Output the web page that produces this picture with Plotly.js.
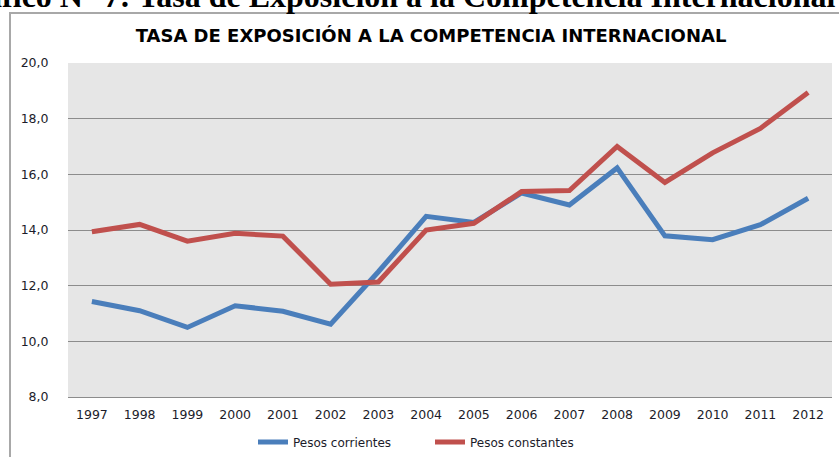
<!DOCTYPE html>
<html>
<head>
<meta charset="utf-8">
<script src="https://cdn.plot.ly/plotly-3.0.1.min.js"></script>
<style>html,body{margin:0;padding:0;background:#fff;}#chart{width:839px;height:457px;}</style>
</head>
<body>
<div id="chart"></div>
<script>
var years = ['1997','1998','1999','2000','2001','2002','2003','2004','2005','2006','2007','2008','2009','2010','2011','2012'];
var pesosCorrientes = [11.43, 11.1, 10.5, 11.28, 11.08, 10.62, 12.5, 14.49, 14.27, 15.33, 14.9, 16.23, 13.79, 13.65, 14.19, 15.14];
var pesosConstantes = [13.94, 14.2, 13.6, 13.88, 13.78, 12.05, 12.13, 14.0, 14.24, 15.38, 15.42, 17.0, 15.71, 16.77, 17.65, 18.94];
var yTicks = [8, 10, 12, 14, 16, 18, 20];
var seriesNames = ['Pesos corrientes', 'Pesos constantes'];
var chartTitle = 'TASA DE EXPOSICIÓN A LA COMPETENCIA INTERNACIONAL';
var headerText = 'Gráfico N° 7: Tasa de Exposición a la Competencia Internacional';

var ML = 68, MR = 7, MT = 63, MB = 60, W = 839, H = 457;
var PW = W - ML - MR, PH = H - MT - MB;
function px(x){ return (x - ML) / PW; }
function py(y){ return (H - MB - y) / PH; }

var traces = [
  {x: years, y: pesosCorrientes, name: seriesNames[0], type: 'scatter', mode: 'lines',
   line: {color: '#4a7ebb', width: 5}},
  {x: years, y: pesosConstantes, name: seriesNames[1], type: 'scatter', mode: 'lines',
   line: {color: '#c0504d', width: 5}}
];

var tickFont = {family: 'DejaVu Sans, sans-serif', size: 12.5, color: '#1c1c2a'};

var layout = {
  width: W, height: H,
  margin: {l: ML, r: MR, t: MT, b: MB, pad: 0},
  paper_bgcolor: '#ffffff',
  plot_bgcolor: '#e6e6e6',
  separators: ',.',
  showlegend: true,
  title: {text: chartTitle, font: {family: 'DejaVu Sans, sans-serif', size: 18, color: '#000', weight: 'bold'},
          xref: 'paper', x: px(431), xanchor: 'center', yref: 'container', y: 1 - 36/H, yanchor: 'middle'},
  xaxis: {type: 'category', range: [-0.5, 15.5], showgrid: false, zeroline: false,
          showline: true, linecolor: '#8c8c8c', linewidth: 1,
          ticks: 'outside', ticklen: 6, tickcolor: 'rgba(0,0,0,0)', tickfont: tickFont, fixedrange: true},
  yaxis: {range: [8, 20], tickvals: yTicks, tickformat: '.1f', showgrid: true, gridcolor: '#8c8c8c', gridwidth: 1,
          zeroline: false, showline: false, ticks: 'outside', ticklen: 16, tickcolor: 'rgba(0,0,0,0)',
          tickfont: tickFont, fixedrange: true},
  legend: {orientation: 'h', xref: 'container', x: 253 / W, xanchor: 'left',
           yref: 'container', y: 1 - 442 / H, yanchor: 'middle',
           font: {family: 'DejaVu Sans, sans-serif', size: 12, color: '#1c1c2a'}, bgcolor: 'rgba(0,0,0,0)',
           entrywidth: 132, entrywidthmode: 'pixels'},
  annotations: [
    {text: '<b>' + headerText + '</b>', xref: 'paper', yref: 'paper', x: px(837), xanchor: 'right',
     y: py(-4), yanchor: 'middle', showarrow: false,
     font: {family: 'Liberation Serif, Times New Roman, serif', size: 32, color: '#000'}}
  ],
  shapes: [
    {type: 'rect', xref: 'paper', yref: 'paper', x0: px(10), x1: px(850), y0: py(470), y1: py(13),
     line: {color: '#a8a8a8', width: 2}, fillcolor: 'rgba(0,0,0,0)', layer: 'above'}
  ]
};

Plotly.newPlot('chart', traces, layout, {displayModeBar: false, staticPlot: true});
</script>
</body>
</html>
